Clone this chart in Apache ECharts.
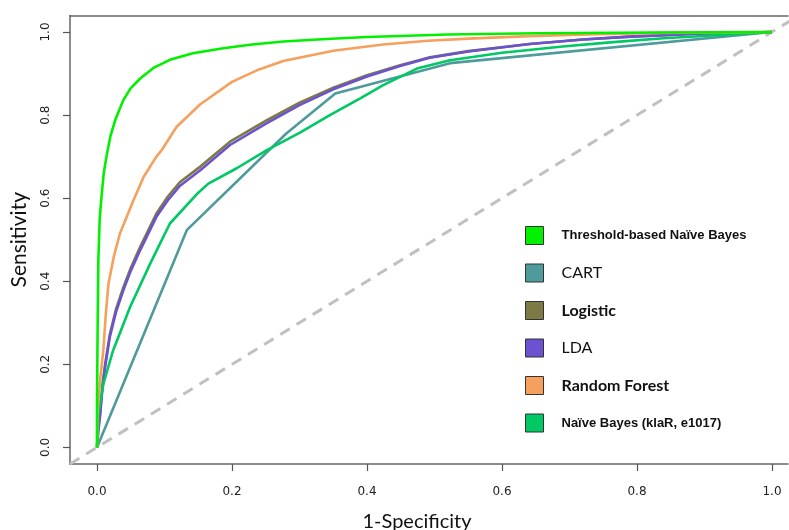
<!DOCTYPE html>
<html>
<head>
<meta charset="utf-8">
<script src="https://cdn.jsdelivr.net/npm/echarts@6/dist/echarts.min.js"></script>
<style>html,body{margin:0;padding:0;background:#fff}#c{width:789px;height:530px}</style>
</head>
<body>
<div id="c"></div>
<script>
const tickValues = [0, 0.2, 0.4, 0.6, 0.8, 1.0];
const tickLabels = ['0.0', '0.2', '0.4', '0.6', '0.8', '1.0'];
const seriesNames = ['Threshold-based Naïve Bayes', 'CART', 'Logistic', 'LDA', 'Random Forest', 'Naïve Bayes (klaR, e1017)'];
const diagonal = [[-0.04, -0.04], [1.04, 1.04]];
const thresholdNB = [[0,0],[0,0.1],[0.001,0.3],[0.002,0.45],[0.004,0.55],[0.0065,0.6],[0.01,0.66],[0.014,0.70],[0.02,0.75],[0.027,0.788],[0.039,0.836],[0.05,0.865],[0.064,0.888],[0.085,0.915],[0.108,0.933],[0.142,0.949],[0.187,0.961],[0.23,0.97],[0.276,0.977],[0.34,0.983],[0.4,0.988],[0.52,0.994],[0.65,0.997],[0.83,0.999],[1,1]];
const cart = [[0,0],[0.133,0.523],[0.28,0.755],[0.353,0.852],[0.523,0.925],[1,1]];
const logistic = [[0,0],[0.002,0.05],[0.0044,0.08],[0.008,0.15],[0.012,0.2],[0.019,0.272],[0.028,0.332],[0.039,0.385],[0.05,0.432],[0.064,0.483],[0.088,0.563],[0.105,0.604],[0.123,0.639],[0.153,0.676],[0.197,0.736],[0.251,0.787],[0.3,0.83],[0.35,0.866],[0.4,0.896],[0.449,0.92],[0.493,0.939],[0.55,0.954],[0.641,0.971],[0.72,0.982],[0.79,0.989],[0.889,0.996],[1,1]];
const lda = [[0,0],[0.002,0.04],[0.0044,0.073],[0.008,0.14],[0.012,0.193],[0.019,0.266],[0.028,0.325],[0.039,0.378],[0.05,0.425],[0.064,0.475],[0.088,0.555],[0.105,0.595],[0.123,0.63],[0.153,0.667],[0.197,0.728],[0.251,0.78],[0.3,0.824],[0.35,0.862],[0.4,0.893],[0.449,0.918],[0.493,0.938],[0.55,0.953],[0.641,0.971],[0.72,0.982],[0.79,0.989],[0.889,0.996],[1,1]];
const randomForest = [[0,0],[0.001,0.09],[0.005,0.17],[0.0094,0.234],[0.013,0.32],[0.017,0.394],[0.025,0.46],[0.034,0.515],[0.054,0.595],[0.069,0.651],[0.088,0.70],[0.096,0.716],[0.118,0.772],[0.153,0.826],[0.2,0.88],[0.24,0.91],[0.276,0.93],[0.35,0.955],[0.424,0.97],[0.49,0.979],[0.55,0.984],[0.641,0.99],[0.74,0.995],[0.839,0.998],[1,1]];
const naiveBayes = [[0,0],[0.002,0.08],[0.0094,0.153],[0.024,0.234],[0.049,0.338],[0.079,0.443],[0.108,0.539],[0.148,0.61],[0.165,0.635],[0.207,0.672],[0.251,0.715],[0.3,0.757],[0.345,0.80],[0.39,0.84],[0.424,0.872],[0.474,0.912],[0.523,0.932],[0.6,0.95],[0.69,0.965],[0.76,0.975],[0.839,0.985],[0.938,0.994],[1,1]];
const colors = {
  'Threshold-based Naïve Bayes': '#00f000',
  'CART': '#4f9a9a',
  'Logistic': '#7e7a45',
  'LDA': '#6a52d0',
  'Random Forest': '#f5a05c',
  'Naïve Bayes (klaR, e1017)': '#00c864'
};
const dataMap = {
  'Threshold-based Naïve Bayes': thresholdNB,
  'CART': cart,
  'Logistic': logistic,
  'LDA': lda,
  'Random Forest': randomForest,
  'Naïve Bayes (klaR, e1017)': naiveBayes
};
const drawOrder = ['CART', 'Logistic', 'LDA', 'Naïve Bayes (klaR, e1017)', 'Random Forest', 'Threshold-based Naïve Bayes'];
const legendText = {
  'Threshold-based Naïve Bayes': {fontFamily: 'Liberation Sans', fontSize: 13, fontWeight: 'bold'},
  'CART': {fontFamily: 'Lato', fontSize: 16},
  'Logistic': {fontFamily: 'Lato', fontSize: 16, fontWeight: 'bold'},
  'LDA': {fontFamily: 'Lato', fontSize: 16},
  'Random Forest': {fontFamily: 'Lato', fontSize: 16, fontWeight: 'bold'},
  'Naïve Bayes (klaR, e1017)': {fontFamily: 'Liberation Sans', fontSize: 13, fontWeight: 'bold'}
};

const chart = echarts.init(document.getElementById('c'), null, {renderer: 'canvas'});
const boxLine = {show: true, onZero: false, lineStyle: {color: '#666', width: 1.5}};
const tickFmt = v => tickLabels[tickValues.indexOf(Math.round(v * 10) / 10)];
const series = [{
  type: 'line', name: 'diag', data: diagonal, symbol: 'none', silent: true,
  lineStyle: {color: '#c0c0c0', width: 3, type: [11, 8]}, z: 1
}].concat(drawOrder.map((n, i) => ({
  type: 'line', name: n, data: dataMap[n], symbol: 'none', smooth: false,
  itemStyle: {color: colors[n]},
  lineStyle: {color: colors[n], width: 2.6}, z: 2 + i
})));
chart.setOption({
  animation: false,
  backgroundColor: '#ffffff',
  grid: {left: 70, top: 15.4, right: 1, height: 448.6, show: false, containLabel: false, outerBoundsMode: 'none'},
  xAxis: [{
    type: 'value', min: -0.04, max: 1.0237, position: 'bottom',
    splitLine: {show: false}, axisLine: boxLine,
    axisTick: {show: true, customValues: tickValues, length: 7, lineStyle: {color: '#555', width: 1.2}},
    name: '1-Specificity', nameLocation: 'middle', nameGap: 48,
    nameTextStyle: {fontFamily: 'Lato', fontSize: 20, color: '#111', padding: [0, 24, 0, 0]},
    axisLabel: {customValues: tickValues, formatter: tickFmt, margin: 22, fontFamily: 'DejaVu Sans', fontSize: 12, color: '#222'}
  }, {
    type: 'value', min: -0.04, max: 1.0237, position: 'top',
    splitLine: {show: false}, axisLine: boxLine,
    axisTick: {show: false}, axisLabel: {show: false}
  }],
  yAxis: {
    type: 'value', min: -0.04, max: 1.04,
    splitLine: {show: false}, axisLine: boxLine,
    axisTick: {show: true, customValues: tickValues, length: 7, lineStyle: {color: '#555', width: 1.2}},
    name: 'Sensitivity', nameLocation: 'middle', nameGap: 40,
    nameTextStyle: {fontFamily: 'Lato', fontSize: 21, color: '#111'},
    axisLabel: {customValues: tickValues, rotate: 90, formatter: tickFmt, margin: 18, fontFamily: 'DejaVu Sans', fontSize: 12, color: '#222'}
  },
  legend: {
    orient: 'vertical', left: 525, top: 226, padding: 0, itemWidth: 18, itemHeight: 18, itemGap: 18.5,
    icon: 'rect', selectedMode: false,
    itemStyle: {borderColor: '#333', borderWidth: 1},
    textStyle: {color: '#111', padding: [0, 0, 0, 13], lineHeight: 18},
    data: seriesNames.map(n => ({name: n, textStyle: Object.assign({color: '#111', padding: [0, 0, 0, 13], lineHeight: 18}, legendText[n])}))
  },
  series: series
});
</script>
</body>
</html>
